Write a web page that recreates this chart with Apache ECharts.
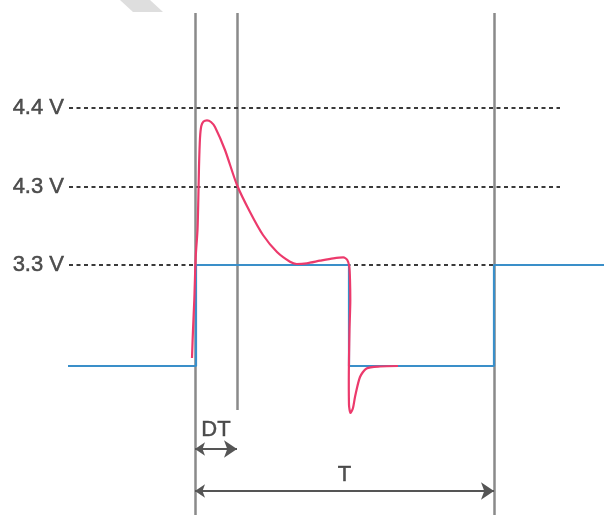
<!DOCTYPE html>
<html>
<head>
<meta charset="utf-8">
<script src="https://cdn.jsdelivr.net/npm/echarts@6/dist/echarts.min.js"></script>
<style>
  html, body { margin: 0; padding: 0; background: #fff; }
  #chart { width: 604px; height: 515px; }
</style>
</head>
<body>
<div id="chart"></div>
<script>
// 电平（示意单位：低电平 = 0）
var levelNames = ['4.4 V', '4.3 V', '3.3 V'];
var levelValues = [258, 179, 101];
var dashStart = -126, dashEnd = 365;

// 时间标记：上升沿、DT、T
var markerX = [0, 42, 299];
var markerTop = 353;
var markerBottom = [-149, -44, -149];

// 蓝色方波
var pwmX = [-127, 1, 1, 154, 154, 299, 299, 409];
var pwmY = [0, 0, 101, 101, 0, 0, 101, 101];

// 红色实际波形（过冲 + 下冲）
var realX = [-3, -2, -0.7, 0.7, 2.5, 3.3, 4, 5, 6.3, 8.5, 12, 16, 20, 30, 42, 55, 68, 82, 95, 101.7, 111.7, 125, 138.3, 148.3, 152.3, 154.3, 155, 155.3, 154.5, 153.8, 154, 155.5, 158, 160, 165, 171.5, 185, 203];
var realY = [8, 36, 66, 109, 136, 166, 199, 228, 240, 244.5, 245.7, 244, 239, 216, 181, 154, 131, 114, 104.3, 102, 102.7, 105.3, 107.7, 108.7, 106, 99.3, 86, 66, 36, -14, -39, -47, -42, -31, -11, -2.5, -0.5, 0];

// 箭头
var arrowNames = ['DT', 'T'];
var arrowFrom = [0, 0];
var arrowTo = [42, 299];
var arrowY = [-83, -125];
var arrowLabelY = [-64, -109];

(function () {
    let myechart = echarts.init(document.getElementById('chart'));
    let font = '"Liberation Sans", Arial, sans-serif';

    let zip = function (xs, ys) {
        return xs.map(function (x, i) { return [x, ys[i]]; });
    };

    // 虚线
    let dashData = levelValues.map(function (v) {
        return { coords: [[dashStart, v], [dashEnd, v]] };
    });
    // 竖线
    let markerData = markerX.map(function (x, i) {
        return { coords: [[x, markerTop], [x, markerBottom[i]]] };
    });
    // 箭头线
    let arrowData = arrowNames.map(function (n, i) {
        return { coords: [[arrowFrom[i], arrowY[i]], [arrowTo[i], arrowY[i]]] };
    });

    let textStyle = {
        show: true,
        formatter: '{b}',
        color: '#262626',
        fontFamily: font,
        fontSize: 22,
        textBorderColor: '#333',
        textBorderWidth: 0.5
    };

    var option = {
        animation: false,
        backgroundColor: '#ffffff',
        grid: { left: 0, right: 0, top: 0, bottom: 0, containLabel: false },
        xAxis: { type: 'value', min: -195, max: 409, show: false },
        yAxis: { type: 'value', min: -149, max: 366, show: false },
        graphic: [
            {
                type: 'polygon',
                shape: { points: [[120, 0], [150, 0], [163, 12], [133, 12]] },
                style: { fill: '#dedede' }
            }
        ],
        series: [
            {
                name: 'markers',
                type: 'lines',
                coordinateSystem: 'cartesian2d',
                silent: true,
                lineStyle: { color: '#8a8a8a', width: 2.5, opacity: 1, type: 'solid' },
                data: markerData
            },
            {
                name: 'levels',
                type: 'lines',
                coordinateSystem: 'cartesian2d',
                silent: true,
                lineStyle: { color: '#3a3a3a', width: 1.8, opacity: 1, type: [4, 3.5] },
                data: dashData
            },
            {
                name: 'levelLabels',
                type: 'scatter',
                symbolSize: 0,
                silent: true,
                data: levelValues.map(function (v, i) { return { value: [dashStart - 2, v], name: levelNames[i] }; }),
                label: Object.assign({ position: 'left', distance: 3 }, textStyle)
            },
            {
                name: 'pwm',
                type: 'line',
                symbol: 'none',
                silent: true,
                lineStyle: { color: '#3a8fc9', width: 2.2 },
                data: zip(pwmX, pwmY)
            },
            {
                name: 'real',
                type: 'line',
                symbol: 'none',
                silent: true,
                smooth: 0.25,
                lineStyle: { color: '#ec3a6c', width: 2.2 },
                data: zip(realX, realY)
            },
            {
                name: 'arrows',
                type: 'lines',
                coordinateSystem: 'cartesian2d',
                silent: true,
                symbol: ['arrow', 'arrow'],
                symbolSize: [10, 13],
                lineStyle: { color: '#555', width: 2, opacity: 1 },
                itemStyle: { color: '#2b2b2b' },
                data: arrowData
            },
            {
                name: 'arrowLabels',
                type: 'scatter',
                symbolSize: 0,
                silent: true,
                data: arrowNames.map(function (n, i) {
                    return { value: [(arrowFrom[i] + arrowTo[i]) / 2, arrowLabelY[i]], name: n };
                }),
                label: Object.assign({ position: 'inside' }, textStyle)
            }
        ]
    };

    myechart.setOption(option);
    window.addEventListener('resize', function () {
        myechart.resize();
    });
})();
</script>
</body>
</html>
